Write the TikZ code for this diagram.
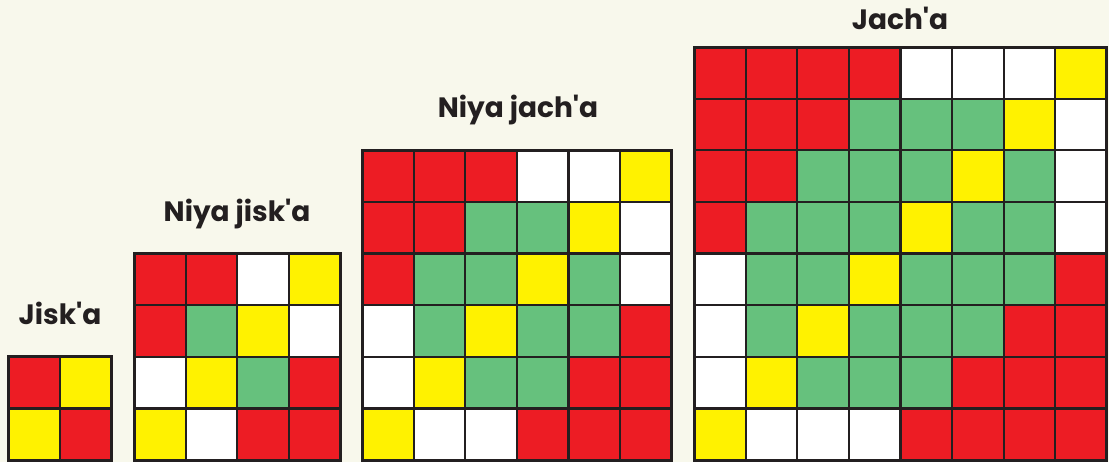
\documentclass[tikz,border=0pt]{standalone}
\usepackage{fontspec}
\setmainfont{Poppins}
\definecolor{bgcream}{HTML}{F8F8EC}
\definecolor{cR}{HTML}{ED1C24}
\definecolor{cY}{HTML}{FFF200}
\definecolor{cG}{HTML}{66C17D}
\definecolor{cW}{HTML}{FFFFFF}
\definecolor{edge}{HTML}{231F20}

\begin{document}
\begin{tikzpicture}[
    x=1pt, y=-1pt,
    cell/.style={draw=edge, line width=2.2pt, minimum size=51.6pt, inner sep=0pt, outer sep=0pt},
    frame/.style={draw=edge, line width=3pt},
    title/.style={font=\fontsize{28}{30}\selectfont\bfseries, text=edge},
]
\fill[bgcream] (0,0) rectangle (1109,462);
\useasboundingbox (0,0) rectangle (1109,462);

% Jisk'a (2x2)
\foreach \row [count=\i] in {{R,Y},{Y,R}}
  \foreach \c [count=\j] in \row
    \node[cell, fill=c\c] (js-\i-\j) at ({8+(\j-0.5)*51.6}, {460-2*51.6+(\i-0.5)*51.6}) {};
\draw[frame] (js-1-1.north west) rectangle (js-2-2.south east);
\node[title] (t-js) at (60,313) {Jisk\textquotesingle a};

% Niya jisk'a (4x4)
\foreach \row [count=\i] in {{R,R,W,Y},{R,G,Y,W},{W,Y,G,R},{Y,W,R,R}}
  \foreach \c [count=\j] in \row
    \node[cell, fill=c\c] (njs-\i-\j) at ({134+(\j-0.5)*51.6}, {460-4*51.6+(\i-0.5)*51.6}) {};
\draw[frame] (njs-1-1.north west) rectangle (njs-4-4.south east);
\node[title] (t-njs) at (237,214) {Niya jisk\textquotesingle a};

% Niya jach'a (6x6)
\foreach \row [count=\i] in {{R,R,R,W,W,Y},{R,R,G,G,Y,W},{R,G,G,Y,G,W},{W,G,Y,G,G,R},{W,Y,G,G,R,R},{Y,W,W,R,R,R}}
  \foreach \c [count=\j] in \row
    \node[cell, fill=c\c] (njc-\i-\j) at ({362+(\j-0.5)*51.6}, {460-6*51.6+(\i-0.5)*51.6}) {};
\draw[frame] (njc-1-1.north west) rectangle (njc-6-6.south east);
\node[title] (t-njc) at (518,110) {Niya jach\textquotesingle a};

% Jach'a (8x8)
\foreach \row [count=\i] in {{R,R,R,R,W,W,W,Y},{R,R,R,G,G,G,Y,W},{R,R,G,G,G,Y,G,W},{R,G,G,G,Y,G,G,W},{W,G,G,Y,G,G,G,R},{W,G,Y,G,G,G,R,R},{W,Y,G,G,G,R,R,R},{Y,W,W,W,R,R,R,R}}
  \foreach \c [count=\j] in \row
    \node[cell, fill=c\c] (jc-\i-\j) at ({694+(\j-0.5)*51.6}, {460-8*51.6+(\i-0.5)*51.6}) {};
\draw[frame] (jc-1-1.north west) rectangle (jc-8-8.south east);
\node[title] (t-jc) at (900,18) {Jach\textquotesingle a};
\end{tikzpicture}
\end{document}
